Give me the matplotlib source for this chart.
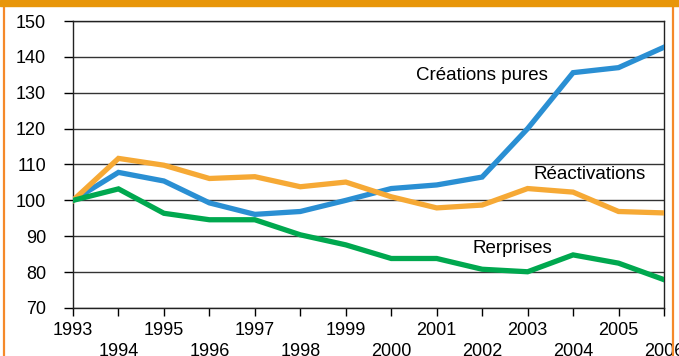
import matplotlib.pyplot as plt
from matplotlib.lines import Line2D
from matplotlib.patches import Rectangle

plt.rcParams['font.family'] = ['Liberation Sans', 'DejaVu Sans']

years = [1993, 1994, 1995, 1996, 1997, 1998, 1999, 2000, 2001, 2002, 2003, 2004, 2005, 2006]
creations = [100, 107.8, 105.4, 99.3, 96.1, 96.9, 100, 103.3, 104.3, 106.5, 120, 135.6, 137, 142.7]
reactivations = [100, 111.7, 109.8, 106.1, 106.6, 103.8, 105.1, 101, 97.9, 98.7, 103.3, 102.3, 96.9, 96.5]
reprises = [100, 103.2, 96.4, 94.6, 94.6, 90.4, 87.6, 83.8, 83.8, 80.8, 80.1, 84.8, 82.5, 77.9]

blue = '#2A8FD3'
orange = '#F6A935'
green = '#00A84F'

fig = plt.figure(figsize=(6.79, 3.56), dpi=100)
ax = fig.add_axes([73 / 679, 1 - 308 / 356, (664 - 73) / 679, (308 - 21) / 356])

ax.plot(years, creations, color=blue, lw=3.8, solid_joinstyle='miter', zorder=3)
ax.plot(years, reactivations, color=orange, lw=3.8, solid_joinstyle='miter', zorder=3)
ax.plot(years, reprises, color=green, lw=3.8, solid_joinstyle='miter', zorder=3)

ax.set_xlim(1993, 2006)
ax.set_ylim(70, 150)
ax.set_yticks(range(70, 151, 10))
ax.grid(axis='y', color='#333333', lw=1)
ax.set_axisbelow(True)

labels = [str(y) if y % 2 == 1 else '\n' + str(y) for y in years]
ax.set_xticks(years)
ax.set_xticklabels(labels, fontsize=13, linespacing=1.3)
ax.tick_params(axis='y', labelsize=13, length=6.5, width=1, pad=13)
ax.tick_params(axis='x', length=5.8, width=1, pad=4)
for s in ax.spines.values():
    s.set_color('#222222')
    s.set_linewidth(1)

ax.text(2002, 134.8, 'Créations pures', fontsize=13.5, ha='center', va='center')
ax.text(2004.37, 107.3, 'Réactivations', fontsize=13.5, ha='center', va='center')
ax.text(2002.67, 86.6, 'Rerprises', fontsize=13.5, ha='center', va='center')

# orange frame of the original box
fig.patches.append(Rectangle((0, 1 - 5.5 / 356), 1, 5.5 / 356, transform=fig.transFigure,
                             color='#E8960A', zorder=5))
fig.lines.append(Line2D([4 / 679, 4 / 679], [0, 1], transform=fig.transFigure,
                        color='#F5892A', lw=1.6))
fig.lines.append(Line2D([673 / 679, 673 / 679], [0, 1], transform=fig.transFigure,
                        color='#F5892A', lw=1.6))

fig.savefig('out.png', dpi=100)
